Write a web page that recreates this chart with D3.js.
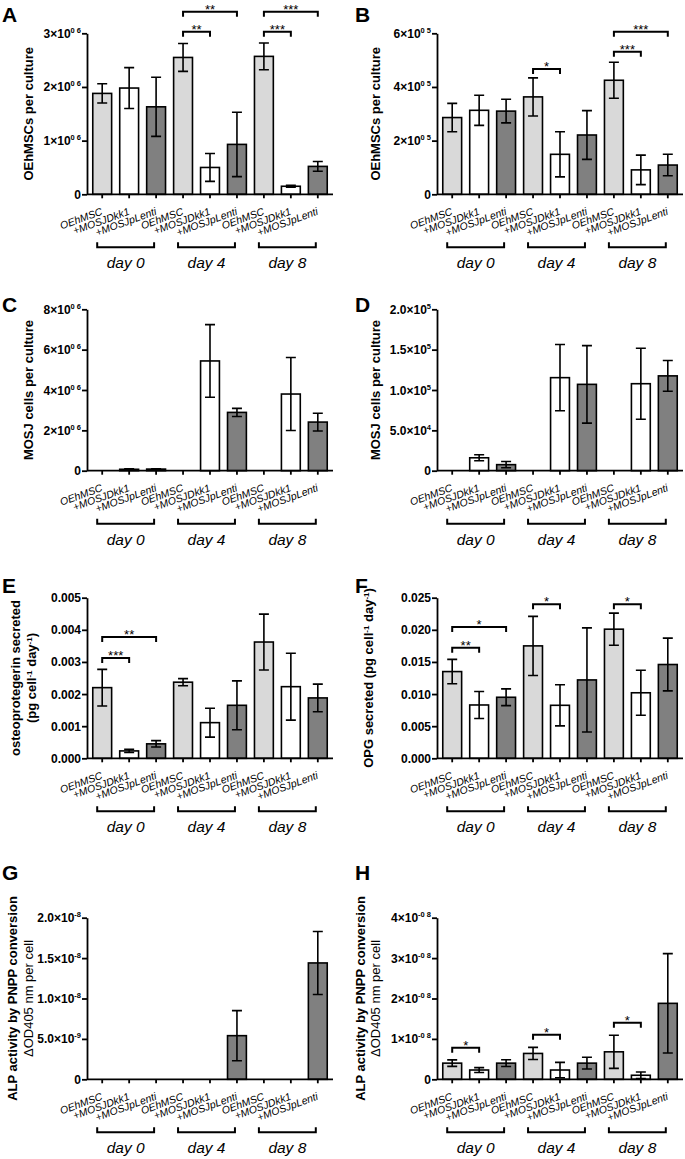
<!DOCTYPE html>
<html><head><meta charset="utf-8">
<script src="https://cdn.jsdelivr.net/npm/d3@7"></script>
<style>
body{margin:0;background:#fff}
text{font-family:"Liberation Sans",Arial,Helvetica,sans-serif;fill:#000}
</style>
</head><body>
<svg id="c" width="685" height="1159"></svg>
<script>
// ---------- data ----------
const categories = ["OEhMSC","+MOSJDkk1","+MOSJpLenti","OEhMSC","+MOSJDkk1","+MOSJpLenti","OEhMSC","+MOSJDkk1","+MOSJpLenti"];
const groups = ["day 0","day 4","day 8"];

const aMean = [1.88e6,1.98e6,1.63e6,2.55e6,0.50e6,0.93e6,2.57e6,0.15e6,0.52e6];
const aSd   = [0.18e6,0.38e6,0.55e6,0.26e6,0.26e6,0.60e6,0.25e6,0.02e6,0.09e6];
const aTicks = [0,1e6,2e6,3e6];
const aTickLabels = ["0","1×10^0 6","2×10^0 6","3×10^0 6"];
const aSig = [[3,4,"**",3.03e6],[3,5,"**",3.40e6],[6,7,"***",3.03e6],[6,8,"***",3.40e6]];

const bMean = [2.86e5,3.13e5,3.10e5,3.63e5,1.49e5,2.21e5,4.25e5,0.91e5,1.09e5];
const bSd   = [0.53e5,0.56e5,0.44e5,0.71e5,0.84e5,0.91e5,0.67e5,0.55e5,0.40e5];
const bTicks = [0,2e5,4e5,6e5];
const bTickLabels = ["0","2×10^0 5","4×10^0 5","6×10^0 5"];
const bSig = [[3,4,"*",4.67e5],[6,7,"***",5.31e5],[6,8,"***",6.06e5]];

const cMean = [0,0.07e6,0.08e6,0,5.44e6,2.89e6,0,3.80e6,2.41e6];
const cSd   = [0,0.02e6,0.02e6,0,1.80e6,0.20e6,0,1.81e6,0.44e6];
const cTicks = [0,2e6,4e6,6e6,8e6];
const cTickLabels = ["0","2×10^0 6","4×10^0 6","6×10^0 6","8×10^0 6"];
const cSig = [];

const dMean = [0,1.6e4,0.75e4,0,1.153e5,1.07e5,0,1.078e5,1.175e5];
const dSd   = [0,0.37e4,0.39e4,0,0.41e5,0.48e5,0,0.44e5,0.19e5];
const dTicks = [0,5e4,1e5,1.5e5,2e5];
const dTickLabels = ["0","5.0×10^4","1.0×10^5","1.5×10^5","2.0×10^5"];
const dSig = [];

const eMean = [0.00220,0.00023,0.00045,0.00237,0.00111,0.00165,0.00362,0.00223,0.00188];
const eSd   = [0.00057,0.00005,0.00010,0.00011,0.00045,0.00076,0.00087,0.00104,0.00043];
const eTicks = [0,0.001,0.002,0.003,0.004,0.005];
const eTickLabels = ["0.000","0.001","0.002","0.003","0.004","0.005"];
const eSig = [[0,1,"***",0.00312],[0,2,"**",0.00378]];

const fMean = [0.0135,0.0083,0.0095,0.0175,0.00825,0.0122,0.0201,0.0102,0.0146];
const fSd   = [0.0019,0.0021,0.0013,0.0046,0.0032,0.0081,0.0025,0.0035,0.0041];
const fTicks = [0,0.005,0.010,0.015,0.020,0.025];
const fTickLabels = ["0.000","0.005","0.010","0.015","0.020","0.025"];
const fSig = [[0,1,"**",0.01722],[0,2,"*",0.02044],[3,4,"*",0.02397],[6,7,"*",0.02397]];

const gMean = [0,0,0,0,0,0.54e-8,0,0,1.44e-8];
const gSd   = [0,0,0,0,0,0.31e-8,0,0,0.39e-8];
const gTicks = [0,5e-9,1e-8,1.5e-8,2e-8];
const gTickLabels = ["0","5.0×10^-9","1.0×10^-8","1.5×10^-8","2.0×10^-8"];
const gSig = [];

const hMean = [0.40e-8,0.23e-8,0.40e-8,0.64e-8,0.23e-8,0.40e-8,0.68e-8,0.10e-8,1.88e-8];
const hSd   = [0.08e-8,0.06e-8,0.085e-8,0.15e-8,0.19e-8,0.145e-8,0.41e-8,0.08e-8,1.23e-8];
const hTicks = [0,1e-8,2e-8,3e-8,4e-8];
const hTickLabels = ["0","1×10^-0 8","2×10^-0 8","3×10^-0 8","4×10^-0 8"];
const hSig = [[0,1,"*",0.78e-8],[3,4,"*",1.10e-8],[6,7,"*",1.40e-8]];

const titles = {
  A:["OEhMSCs per culture"], B:["OEhMSCs per culture"],
  C:["MOSJ cells per culture"], D:["MOSJ cells per culture"],
  E:["osteoprotegerin secreted","(pg cell^-1 day^-1)"], F:["OPG secreted (pg cell^-1 day^-1)"],
  G:["ALP activity by PNPP conversion","ΔOD405 nm per cell"], H:["ALP activity by PNPP conversion","ΔOD405 nm per cell"]
};

// ---------- layout ----------
const fills = ["#d9d9d9","#ffffff","#808080"];
const rows = [[194.3,33.3],[470.7,309.3],[758.3,597.7],[1079.3,917.7]];
const cols = [87,437];
const letterBase = [22,312,593,880];

const panels = [
 {id:"A",mean:aMean,sd:aSd,ticks:aTicks,labels:aTickLabels,sig:aSig,r:0,c:0,tdx:[-54]},
 {id:"B",mean:bMean,sd:bSd,ticks:bTicks,labels:bTickLabels,sig:bSig,r:0,c:1,tdx:[-57]},
 {id:"C",mean:cMean,sd:cSd,ticks:cTicks,labels:cTickLabels,sig:cSig,r:1,c:0,tdx:[-54]},
 {id:"D",mean:dMean,sd:dSd,ticks:dTicks,labels:dTickLabels,sig:dSig,r:1,c:1,tdx:[-57]},
 {id:"E",mean:eMean,sd:eSd,ticks:eTicks,labels:eTickLabels,sig:eSig,r:2,c:0,tdx:[-67,-51]},
 {id:"F",mean:fMean,sd:fSd,ticks:fTicks,labels:fTickLabels,sig:fSig,r:2,c:1,tdx:[-64]},
 {id:"G",mean:gMean,sd:gSd,ticks:gTicks,labels:gTickLabels,sig:gSig,r:3,c:0,tdx:[-70,-54]},
 {id:"H",mean:hMean,sd:hSd,ticks:hTicks,labels:hTickLabels,sig:hSig,r:3,c:1,tdx:[-72,-57]}
];

const svg = d3.select("#c");

function addRich(textSel, str, supSize, supDy){
  const parts = str.split("^");
  textSel.append("tspan").text(parts[0]);
  if(parts.length>1){
    textSel.append("tspan").attr("font-size",supSize).attr("dy",supDy).text(parts[1]);
  }
}

function addTitleLine(textSel, str){
  const re = /\^(-?\d+)/g;
  let last = 0, m, up=false;
  while((m = re.exec(str))){
    textSel.append("tspan").attr("dy", up? 4:0).text(str.slice(last,m.index));
    textSel.append("tspan").attr("font-size",8).attr("dy",-4).text(m[1]);
    up = true;
    last = re.lastIndex;
  }
  textSel.append("tspan").attr("dy", up?4:0).text(str.slice(last));
}

panels.forEach(p=>{
  const ox = cols[p.c], y0 = rows[p.r][0], y1 = rows[p.r][1];
  const g = svg.append("g");
  const x = d3.scaleBand().domain(d3.range(9)).range([ox, ox+246]).paddingInner(0.3).paddingOuter(0.214);
  const y = d3.scaleLinear().domain([0, p.ticks[p.ticks.length-1]]).range([y0, y1]);
  const cx = i => x(i) + x.bandwidth()/2;

  // bars
  g.selectAll("rect.bar").data(p.mean).join("rect")
    .attr("x",(d,i)=>x(i)).attr("width",x.bandwidth())
    .attr("y",d=>y(d)).attr("height",d=>y(0)-y(d))
    .attr("fill",(d,i)=>fills[i%3]).attr("stroke","#000").attr("stroke-width",1.6);

  // error bars
  p.mean.forEach((m,i)=>{
    const s = p.sd[i];
    if(!s) return;
    const xc = cx(i), hw = 5;
    const lo = y(Math.max(0,m-s)), hi = y(m+s);
    g.append("path").attr("d",`M${xc},${lo}V${hi}M${xc-hw},${hi}H${xc+hw}M${xc-hw},${lo}H${xc+hw}`)
      .attr("stroke","#000").attr("stroke-width",1.6).attr("fill","none");
  });

  // y axis
  const ya = g.append("g").attr("transform",`translate(${ox},0)`)
    .call(d3.axisLeft(y).tickValues(p.ticks).tickSize(5).tickSizeOuter(0).tickFormat(""));
  ya.selectAll("path,line").attr("stroke","#000").attr("stroke-width",1.8);
  p.ticks.forEach((t,k)=>{
    const tx = g.append("text").attr("x",ox-6).attr("y",y(t)+4.5)
      .attr("text-anchor","end").attr("font-size",12).attr("font-weight","bold");
    addRich(tx, p.labels[k], 7.5, -5);
  });

  // x axis
  const xa = g.append("g").attr("transform",`translate(0,${y0})`)
    .call(d3.axisBottom(x).tickSize(4).tickSizeOuter(0).tickFormat(""));
  xa.selectAll("path,line").attr("stroke","#000").attr("stroke-width",1.8);
  xa.select("path.domain").attr("d",`M${ox},0H${ox+246}`);

  categories.forEach((c,i)=>{
    g.append("text").attr("transform",`translate(${cx(i)+1},${y0+20}) rotate(-20)`)
      .attr("text-anchor","end").attr("font-size",10.5).attr("font-style","italic").text(c);
  });

  // group brackets
  groups.forEach((gr,k)=>{
    const xa0 = cx(3*k)-5, xa1 = cx(3*k+2)-2, by = y0+53;
    g.append("path").attr("d",`M${xa0},${by-5}V${by}H${xa1}V${by-5}`)
      .attr("stroke","#000").attr("stroke-width",2).attr("fill","none");
    g.append("text").attr("x",(xa0+xa1)/2).attr("y",y0+74).attr("text-anchor","middle")
      .attr("font-size",15.5).attr("font-style","italic").text(gr);
  });

  // significance brackets
  p.sig.forEach(([i,j,lab,v])=>{
    const yy = y(v);
    g.append("path").attr("d",`M${cx(i)},${yy+5}V${yy}H${cx(j)}V${yy+5}`)
      .attr("stroke","#000").attr("stroke-width",2).attr("fill","none");
    g.append("text").attr("x",(cx(i)+cx(j))/2).attr("y",yy+2).attr("text-anchor","middle")
      .attr("font-size",13).text(lab);
  });

  // y title
  const lines = titles[p.id];
  lines.forEach((ln,k)=>{
    const t = g.append("text")
      .attr("transform",`translate(${ox+p.tdx[k]},${(y0+y1)/2}) rotate(-90)`)
      .attr("text-anchor","middle").attr("font-size",13)
      .attr("font-weight", (p.id==="G"||p.id==="H") && k===1 ? "normal" : "bold");
    addTitleLine(t, ln);
  });

  // panel letter
  svg.append("text").attr("x", p.c===0 ? 2 : 355).attr("y", letterBase[p.r])
    .attr("font-size",21).attr("font-weight","bold").text(p.id);
});
</script>
</body></html>
